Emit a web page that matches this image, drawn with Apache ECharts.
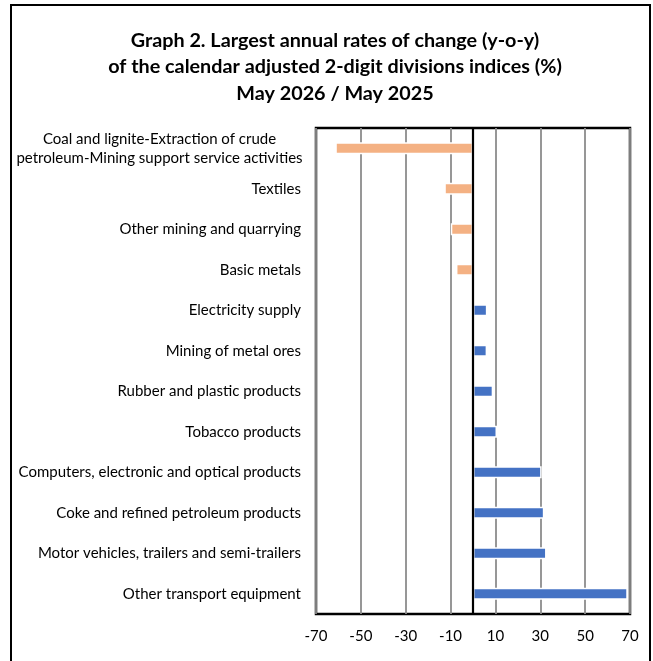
<!DOCTYPE html>
<html>
<head>
<meta charset="utf-8">
<script src="https://cdn.jsdelivr.net/npm/echarts@6/dist/echarts.min.js"></script>
<style>
html,body{margin:0;padding:0;background:#fff;}
#c{width:653px;height:661px;}
</style>
</head>
<body>
<div id="c"></div>
<script>
const titleLines = [
  "Graph 2. Largest annual rates of change (y-o-y)",
  "of the calendar adjusted 2-digit divisions indices (%)",
  "May 2026 / May 2025"
];
const categories = [
  "Coal and lignite-Extraction of crude\npetroleum-Mining support service activities",
  "Textiles",
  "Other mining and quarrying",
  "Basic metals",
  "Electricity supply",
  "Mining of metal ores",
  "Rubber and plastic products",
  "Tobacco products",
  "Computers, electronic and optical products",
  "Coke and refined petroleum products",
  "Motor vehicles, trailers and semi-trailers",
  "Other transport equipment"
];
const values = [-61.4, -12.8, -9.9, -7.6, 6.4, 6.3, 9.0, 10.7, 30.6, 31.8, 32.8, 69.0];
const xTicks = [-70, -50, -30, -10, 10, 30, 50, 70];

const FONT = "Lato";
const chart = echarts.init(document.getElementById('c'), null, {renderer: 'canvas'});
chart.setOption({
  animation: false,
  backgroundColor: '#fff',
  title: {
    text: titleLines.join('\n'),
    left: 330,
    textAlign: 'center',
    top: 22,
    textStyle: {fontFamily: FONT, fontSize: 19.8, fontWeight: 'bold', color: '#000', lineHeight: 26.5}
  },
  graphic: [{
    type: 'rect',
    shape: {x: 11, y: 5, width: 639, height: 700},
    style: {fill: 'none', stroke: '#000', lineWidth: 2},
    silent: true,
    z: 100
  }],
  grid: {
    left: 316, right: 23, top: 128, bottom: 47,
    show: true, borderColor: '#000', borderWidth: 2.5, backgroundColor: 'transparent'
  },
  xAxis: {
    type: 'value',
    min: xTicks[0],
    max: xTicks[xTicks.length - 1],
    interval: xTicks[1] - xTicks[0],
    axisLine: {show: false},
    axisTick: {show: false},
    splitLine: {show: true, lineStyle: {color: '#8c8c8c', width: 1.8}},
    axisLabel: {margin: 15, fontFamily: FONT, fontSize: 15, color: '#000'}
  },
  yAxis: {
    type: 'category',
    inverse: true,
    data: categories,
    axisLine: {show: true, onZero: true, lineStyle: {color: '#000', width: 2.2}},
    axisTick: {show: false},
    axisLabel: {
      margin: 15,
      fontFamily: FONT, fontSize: 15, color: '#000',
      formatter: function (v) {
        return v.indexOf('\n') >= 0 ? v.split('\n').map(s => '{c|' + s + '}').join('\n') : v;
      },
      rich: {c: {width: 283, align: 'center', fontFamily: FONT, fontSize: 15, color: '#000', lineHeight: 19}}
    },
    z: 5
  },
  series: [{
    type: 'bar',
    data: values.map(v => ({value: v, itemStyle: {color: v < 0 ? '#F4B183' : '#4472C4'}})),
    barWidth: 12,
    itemStyle: {borderColor: '#fff', borderWidth: 1.5},
    z: 2
  }]
});
</script>
</body>
</html>
